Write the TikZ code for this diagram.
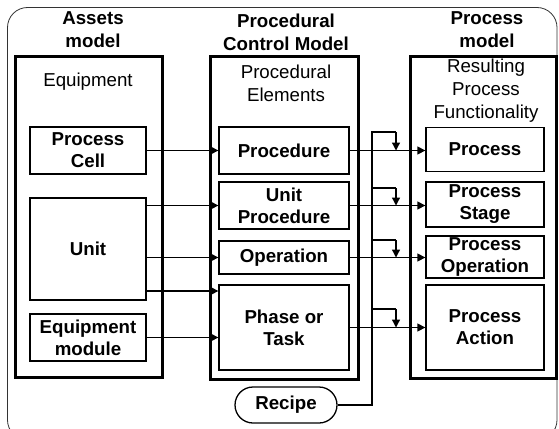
\documentclass[tikz,border=0pt]{standalone}
\usepackage{fontspec}
\setmainfont{Liberation Sans}
\usetikzlibrary{arrows.meta}
\begin{document}
\begin{tikzpicture}[x=1pt,y=-1pt,
  outerbox/.style={draw, line width=3pt, minimum width=#1},
  inbox/.style={draw, line width=1.3pt, align=center, font=\fontsize{18.7}{22}\selectfont\bfseries, inner sep=0pt},
  ttl/.style={align=center, font=\fontsize{18.7}{23}\selectfont\bfseries},
  sub/.style={align=center, font=\fontsize{18.7}{23}\selectfont},
  arr/.style={line width=1.3pt, -{Triangle[length=8pt,width=8pt]}},
  ln/.style={line width=1.3pt}]
\useasboundingbox (0,0) rectangle (559,428);
\draw[line width=0.8pt, rounded corners=20pt, black!80] (7.5,7.5) rectangle (557,440);
% columns
\node[draw, line width=3pt, minimum width=147pt, minimum height=320pt, inner sep=0pt] (colA) at (88.5,217) {};
\node[draw, line width=3pt, minimum width=148pt, minimum height=322pt, inner sep=0pt] (colB) at (284,218) {};
\node[draw, line width=3pt, minimum width=146pt, minimum height=321pt, inner sep=0pt] (colC) at (483,217.5) {};
% titles
\node[ttl] (tA) at (93,30) {Assets\\model};
\node[ttl] (tB) at (286,32) {Procedural\\Control Model};
\node[ttl] (tC) at (487,30) {Process\\model};
\node[sub] (sA) at (88,82) {Equipment};
\node[sub] (sB) at (286,83.5) {Procedural\\Elements};
\node[sub] (sC) at (486,91) {Resulting\\Process\\Functionality};
% left boxes
\node[inbox, minimum width=116pt, minimum height=47pt] (pc) at (88,150.5) {Process\\Cell};
\node[inbox, minimum width=116pt, minimum height=102pt] (unit) at (88,249) {Unit};
\node[inbox, minimum width=116pt, minimum height=47pt] (em) at (88,337.5) {Equipment\\module};
% middle boxes
\node[inbox, minimum width=130pt, minimum height=47pt] (proc) at (284,150.5) {Procedure};
\node[inbox, minimum width=130pt, minimum height=47pt] (up) at (284,205.5) {Unit\\Procedure};
\node[inbox, minimum width=130pt, minimum height=33pt] (op) at (284,257.5) {Operation};
\node[inbox, minimum width=130pt, minimum height=85pt] (ph) at (284,327.5) {Phase or\\Task};
\node[inbox, minimum width=102pt, minimum height=36pt, rounded corners=18pt] (rec) at (286,405) {Recipe};
% right boxes
\node[inbox, minimum width=118pt, minimum height=44pt] (p1) at (485,149.5) {Process};
\node[inbox, minimum width=118pt, minimum height=45pt] (p2) at (485,204.5) {Process\\Stage};
\node[inbox, minimum width=118pt, minimum height=42pt] (p3) at (485,257) {Process\\Operation};
\node[inbox, minimum width=118pt, minimum height=85pt] (p4) at (485,327.5) {Process\\Action};
% left to middle
\draw[arr] (pc.east) -- (proc.west |- pc.east);
\draw[arr] (unit.east |- up.west) -- (up.west);
\draw[arr] (unit.east |- op.west) -- (op.west);
\coordinate (u2) at (146,291);
\draw[arr] (u2) -- (ph.west |- u2);
\draw[arr] (em.east) -- (ph.west |- em.east);
% middle to right
\draw[arr] (proc.east) -- (p1.west |- proc.east);
\draw[arr] (up.east) -- (p2.west |- up.east);
\draw[arr] (op.east) -- (p3.west |- op.east);
\draw[arr] (ph.east) -- (p4.west |- ph.east);
% recipe bus
\coordinate (b1) at (372,132);
\coordinate (b2) at (372,188);
\coordinate (b3) at (372,240);
\coordinate (b4) at (372,309);
\draw[ln] (rec.east) -| (b1) -- (396,132);
\draw[arr] (396,132) -- (396,150.5);
\draw[ln] (b2) -- (396,188);
\draw[arr] (396,188) -- (396,205.5);
\draw[ln] (b3) -- (396,240);
\draw[arr] (396,240) -- (396,257.5);
\draw[ln] (b4) -- (396,309);
\draw[arr] (396,309) -- (396,327.5);
\end{tikzpicture}
\end{document}
